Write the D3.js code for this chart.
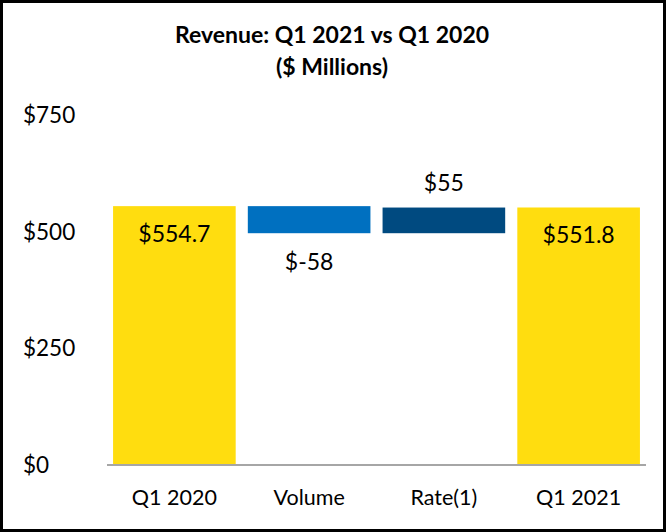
<!DOCTYPE html>
<html><head><meta charset="utf-8">
<script src="https://cdn.jsdelivr.net/npm/d3@7"></script>
<style>body{margin:0;background:#fff}svg{display:block}</style>
</head><body>
<script>
const categories = ["Q1 2020", "Volume", "Rate(1)", "Q1 2021"];
const values = [554.7, -58, 55, 551.8];
const kinds = ["total", "delta", "delta", "total"];
const valueLabels = ["$554.7", "$-58", "$55", "$551.8"];
const yTicks = [0, 250, 500, 750];
const colors = ["#FFDD0F", "#0070C0", "#004A80", "#FFDD0F"];

const W = 666, H = 532;
const font = "Lato, 'Open Sans', sans-serif";
const svg = d3.select("body").append("svg").attr("width", W).attr("height", H);
svg.append("rect").attr("x", 1.5).attr("y", 1.5).attr("width", W - 3).attr("height", H - 3)
  .attr("fill", "#fff").attr("stroke", "#000").attr("stroke-width", 3);

const x = d3.scaleBand().domain(categories).range([107, 646]).paddingInner(0.09).paddingOuter(0.045);
const y = d3.scaleLinear().domain([0, 750]).range([465, 115]);

// compute waterfall spans
let run = 0;
const bars = categories.map((c, i) => {
  let y0, y1;
  if (kinds[i] === "total") { y0 = 0; y1 = values[i]; run = values[i]; }
  else { y0 = run; y1 = run + values[i]; run = y1; }
  return { c, i, y0, y1, v: values[i] };
});

svg.append("g").selectAll("rect").data(bars).join("rect")
  .attr("x", d => x(d.c)).attr("width", x.bandwidth())
  .attr("y", d => y(Math.max(d.y0, d.y1)))
  .attr("height", d => Math.abs(y(d.y0) - y(d.y1)))
  .attr("fill", d => colors[d.i]);

// baseline
svg.append("line").attr("x1", 107).attr("x2", 646).attr("y1", y(0)).attr("y2", y(0))
  .attr("stroke", "#A6A6A6").attr("stroke-width", 2);

// y tick labels
svg.append("g").selectAll("text").data(yTicks).join("text")
  .attr("x", 23).attr("y", d => y(d)).attr("dy", "0.35em")
  .attr("font-family", font).attr("font-size", 22.5).attr("fill", "#000")
  .text(d => "$" + d);

// category labels
svg.append("g").selectAll("text").data(categories).join("text")
  .attr("x", d => x(d) + x.bandwidth() / 2).attr("y", 505)
  .attr("text-anchor", "middle").attr("font-family", font).attr("font-size", 21.5).attr("fill", "#000")
  .text(d => d);

// value labels
svg.append("g").selectAll("text").data(bars).join("text")
  .attr("x", d => x(d.c) + x.bandwidth() / 2)
  .attr("y", d => {
    if (kinds[d.i] === "total") return y(d.y1) + 36;
    if (d.v < 0) return y(d.y1) + 37;
    return y(d.y1) - 17;
  })
  .attr("text-anchor", "middle").attr("font-family", font).attr("font-size", 23).attr("fill", "#000")
  .text(d => valueLabels[d.i]);

// title
svg.append("text").attr("x", W / 2 - 1).attr("y", 43).attr("text-anchor", "middle")
  .attr("font-family", font).attr("font-weight", "bold").attr("font-size", 23).text("Revenue: Q1 2021 vs Q1 2020");
svg.append("text").attr("x", W / 2 - 1).attr("y", 75).attr("text-anchor", "middle")
  .attr("font-family", font).attr("font-weight", "bold").attr("font-size", 23).text("($ Millions)");
</script>
</body></html>
